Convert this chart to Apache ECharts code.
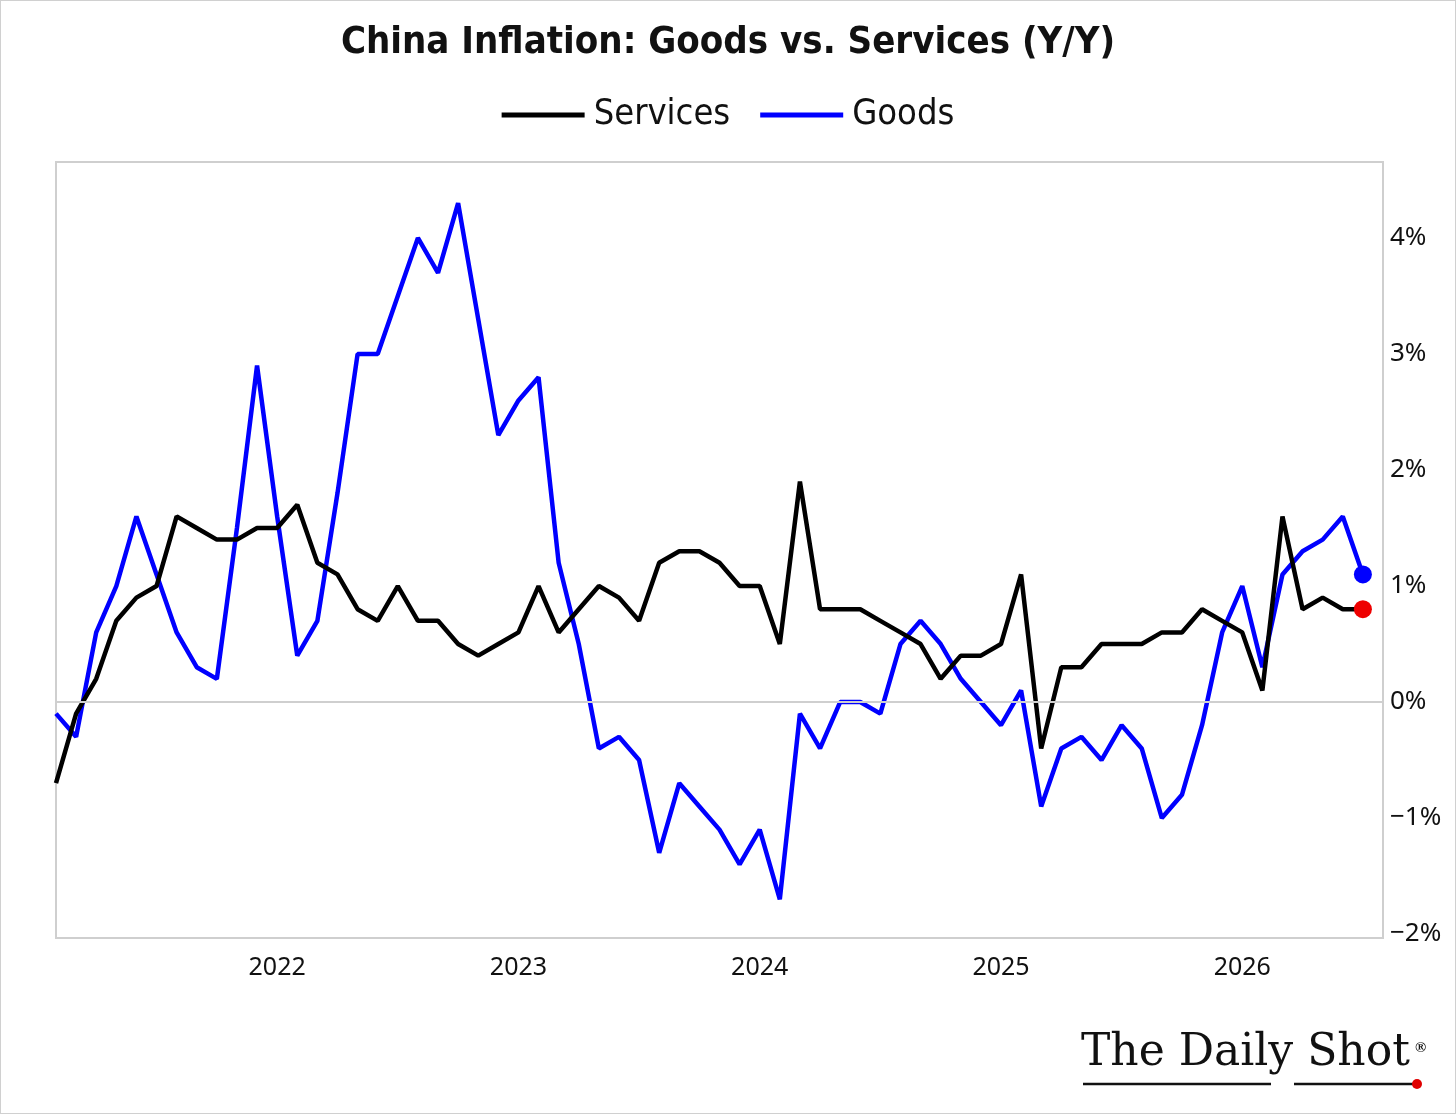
<!DOCTYPE html>
<html>
<head>
<meta charset="utf-8">
<script src="https://cdn.jsdelivr.net/npm/echarts@6/dist/echarts.min.js"></script>
<style>
  html, body { margin: 0; padding: 0; background: #fff; }
  #main { width: 1454px; height: 1112px; border: 1px solid #d0d0d0; }
</style>
</head>
<body>
<div id="main"></div>
<script>
// monthly, Feb 2021 .. Jul 2026 (one spare month at the end for right padding)
var startYear = 2021, startMonth = 2, monthCount = 67;
var months = [];
for (var k = 0; k < monthCount; k++) {
    var m = startMonth - 1 + k;
    var yy = startYear + Math.floor(m / 12);
    var mm = (m % 12) + 1;
    months.push(yy + '-' + (mm < 10 ? '0' + mm : mm));
}

var services = [
    -0.7, -0.1, 0.2, 0.7, 0.9, 1.0, 1.6, 1.5, 1.4, 1.4, 1.5,
    1.5, 1.7, 1.2, 1.1, 0.8, 0.7, 1.0, 0.7, 0.7, 0.5, 0.4, 0.5,
    0.6, 1.0, 0.6, 0.8, 1.0, 0.9, 0.7, 1.2, 1.3, 1.3, 1.2, 1.0,
    1.0, 0.5, 1.9, 0.8, 0.8, 0.8, 0.7, 0.6, 0.5, 0.2, 0.4, 0.4,
    0.5, 1.1, -0.4, 0.3, 0.3, 0.5, 0.5, 0.5, 0.6, 0.6, 0.8, 0.7,
    0.6, 0.1, 1.6, 0.8, 0.9, 0.8, 0.8
];

var goods = [
    -0.1, -0.3, 0.6, 1.0, 1.6, 1.1, 0.6, 0.3, 0.2, 1.5, 2.9,
    1.6, 0.4, 0.7, 1.8, 3.0, 3.0, 3.5, 4.0, 3.7, 4.3, 3.3, 2.3,
    2.6, 2.8, 1.2, 0.5, -0.4, -0.3, -0.5, -1.3, -0.7, -0.9, -1.1, -1.4,
    -1.1, -1.7, -0.1, -0.4, 0.0, 0.0, -0.1, 0.5, 0.7, 0.5, 0.2, 0.0,
    -0.2, 0.1, -0.9, -0.4, -0.3, -0.5, -0.2, -0.4, -1.0, -0.8, -0.2, 0.6,
    1.0, 0.3, 1.1, 1.3, 1.4, 1.6, 1.1
];

var yMin = -2.034, yMax = 4.655;

var myChart = echarts.init(document.getElementById('main'));

var lastIdx = services.length - 1;
var narrow = "'Liberation Sans Narrow', 'DejaVu Sans Condensed', 'Roboto Condensed', Roboto, sans-serif";

var option = {
    backgroundColor: '#fff',
    animation: false,
    title: {
        text: 'China Inflation: Goods vs. Services (Y/Y)',
        left: 'center',
        top: 18,
        textStyle: {
            fontFamily: narrow,
            fontWeight: 'bold',
            fontSize: 38,
            color: '#111'
        }
    },
    legend: {
        top: 91,
        left: 'center',
        icon: 'rect',
        itemWidth: 83,
        itemHeight: 5,
        itemGap: 30,
        textStyle: {
            fontFamily: narrow,
            fontSize: 36,
            color: '#111',
            padding: [0, 0, 0, 4]
        },
        data: ['Services', 'Goods']
    },
    grid: {
        left: 55,
        right: 72,
        top: 161,
        bottom: 175,
        show: true,
        borderColor: '#cfcfcf',
        borderWidth: 2
    },
    xAxis: {
        type: 'category',
        data: months,
        boundaryGap: false,
        axisLine: { show: false },
        axisTick: { show: false },
        splitLine: { show: false },
        axisLabel: {
            margin: 17,
            fontFamily: "'Noto Sans', Roboto, sans-serif",
            fontSize: 25,
            color: '#111',
            interval: function (idx, val) { return val.slice(5) === '01'; },
            formatter: function (val) { return val.slice(0, 4); }
        }
    },
    yAxis: {
        type: 'value',
        position: 'right',
        min: yMin,
        max: yMax,
        splitNumber: 7,
        axisLine: { show: false },
        axisTick: { show: false },
        splitLine: { show: false },
        axisLabel: {
            showMinLabel: false,
            showMaxLabel: false,
            margin: 7,
            fontFamily: "'Noto Sans', Roboto, sans-serif",
            fontSize: 26,
            color: '#111',
            formatter: function (v) {
                if (Math.abs(v - Math.round(v)) > 1e-6) return '';
                var r = Math.round(v);
                return (r < 0 ? '\u2212' + (-r) : r) + '%';
            }
        }
    },
    series: [
        {
            name: 'Services',
            type: 'line',
            data: services,
            showSymbol: false,
            lineStyle: { color: '#000', width: 4.5 },
            itemStyle: { color: '#000' },
            z: 3,
            markLine: {
                silent: true,
                symbol: 'none',
                label: { show: false },
                lineStyle: { color: '#cfcfcf', width: 2, type: 'solid' },
                data: [{ yAxis: 0 }]
            },
            markPoint: {
                symbol: 'circle',
                symbolSize: 18,
                label: { show: false },
                itemStyle: { color: '#ee0000' },
                data: [{ coord: [months[lastIdx], services[lastIdx]] }]
            }
        },
        {
            name: 'Goods',
            type: 'line',
            data: goods,
            showSymbol: false,
            lineStyle: { color: '#0000ff', width: 4.5 },
            itemStyle: { color: '#0000ff' },
            z: 2,
            markPoint: {
                symbol: 'circle',
                symbolSize: 18,
                label: { show: false },
                itemStyle: { color: '#0000ff' },
                data: [{ coord: [months[lastIdx], goods[lastIdx]] }]
            }
        }
    ],
    graphic: [
        {
            type: 'text',
            left: 1080,
            top: 1031,
            style: {
                text: 'The Daily Shot',
                font: '44px "DejaVu Serif", "Liberation Serif", serif',
                fill: '#111'
            }
        },
        {
            type: 'text',
            left: 1414,
            top: 1040,
            style: {
                text: '\u00ae',
                font: 'bold 15px "Liberation Serif", "DejaVu Serif", serif',
                fill: '#111'
            }
        },
        {
            type: 'line',
            shape: { x1: 1082, y1: 1083, x2: 1270, y2: 1083 },
            style: { stroke: '#111', lineWidth: 2.5 }
        },
        {
            type: 'line',
            shape: { x1: 1293, y1: 1083, x2: 1414, y2: 1083 },
            style: { stroke: '#111', lineWidth: 2.5 }
        },
        {
            type: 'circle',
            shape: { cx: 1416, cy: 1083, r: 5 },
            style: { fill: '#e00000' }
        }
    ]
};

myChart.setOption(option);
</script>
</body>
</html>
